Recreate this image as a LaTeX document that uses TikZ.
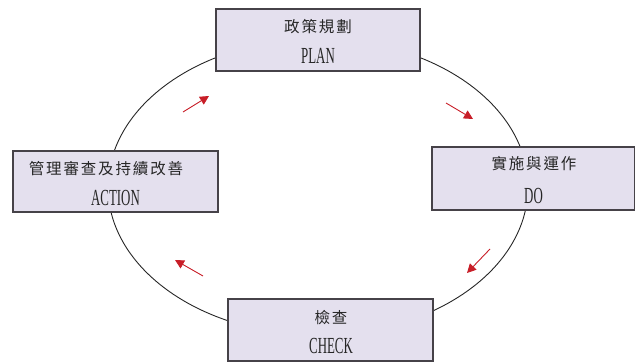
\documentclass[tikz,border=0pt]{standalone}
\usepackage{fontspec}
\usetikzlibrary{arrows.meta}
\newfontfamily\cjkfont[LetterSpace=12]{Noto Sans CJK TC}
\newfontfamily\latcond[FakeStretch=0.56]{Liberation Serif}
\definecolor{boxfill}{RGB}{228,224,238}
\definecolor{boxline}{RGB}{70,66,72}
\definecolor{arrred}{RGB}{200,30,40}
\tikzset{
  pdcabox/.style={draw=boxline, line width=1.4pt, fill=boxfill},
  zhtext/.style={font=\cjkfont\fontsize{15.5}{17}\selectfont, text=black!85, inner sep=0pt},
  entext/.style={font=\latcond\fontsize{23}{26}\selectfont, text=black!85, inner sep=0pt},
  redarr/.style={draw=arrred, line width=0.9pt, -{Triangle[length=9pt,width=9pt]}}
}
\begin{document}
\begin{tikzpicture}[x=1pt,y=-1pt]
\useasboundingbox (0,0) rectangle (635,363);
% cycle ellipse
\draw[line width=0.9pt, black!85] (318,187) ellipse [x radius=210, y radius=148];
% boxes
\node[pdcabox, minimum width=204pt, minimum height=62pt, inner sep=0pt] (plan) at (318,40) {};
\node[pdcabox, minimum width=203pt, minimum height=63pt, inner sep=0pt] (do) at (533.5,178.5) {};
\node[pdcabox, minimum width=205pt, minimum height=62pt, inner sep=0pt] (check) at (330.5,330) {};
\node[pdcabox, minimum width=205pt, minimum height=61pt, inner sep=0pt] (action) at (115.5,181.5) {};
% texts
\node[zhtext] (planzh) at (318,27) {政策規劃};
\node[entext] (planen) at (318,56) {PLAN};
\node[zhtext] (dozh) at (534,164) {實施與運作};
\node[entext] (doen) at (533.5,196) {DO};
\node[zhtext] (checkzh) at (331,318) {檢查};
\node[entext] (checken) at (331,346) {CHECK};
\node[zhtext] (actionzh) at (106,169) {管理審查及持續改善};
\node[entext] (actionen) at (115.5,198) {ACTION};
% red arrows
\coordinate (a1s) at (183,112); \coordinate (a1e) at (209,96);
\coordinate (a2s) at (446,103); \coordinate (a2e) at (473,119);
\coordinate (a3s) at (490,249); \coordinate (a3e) at (467,273);
\coordinate (a4s) at (203,276); \coordinate (a4e) at (175,260);
\draw[redarr] (a1s) -- (a1e);
\draw[redarr] (a2s) -- (a2e);
\draw[redarr] (a3s) -- (a3e);
\draw[redarr] (a4s) -- (a4e);
\end{tikzpicture}
\end{document}
